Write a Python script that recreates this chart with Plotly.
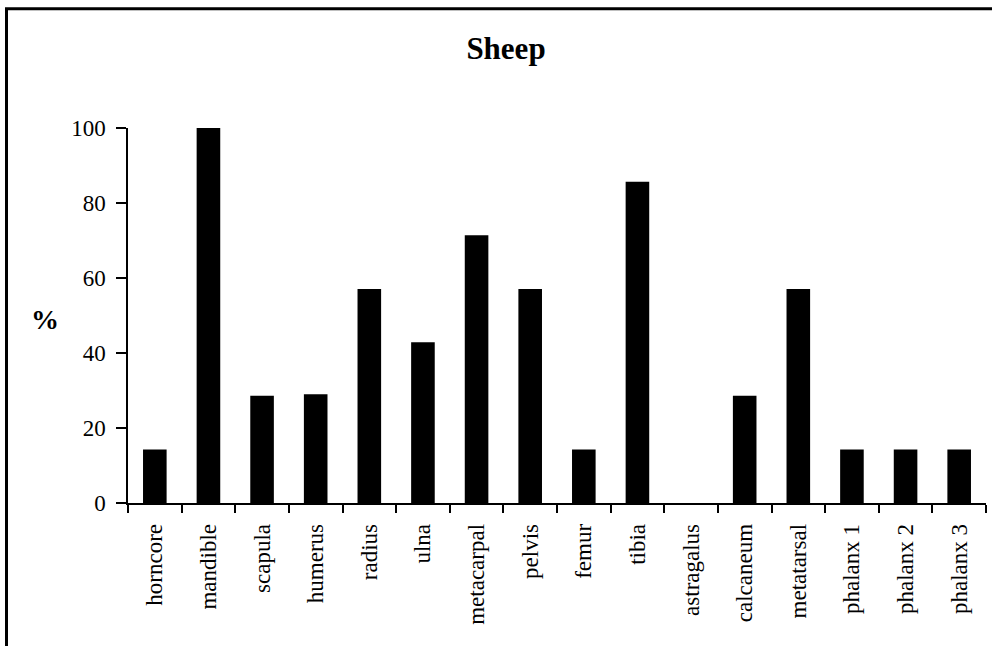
import plotly.graph_objects as go

categories = ["horncore", "mandible", "scapula", "humerus", "radius", "ulna",
              "metacarpal", "pelvis", "femur", "tibia", "astragalus", "calcaneum",
              "metatarsal", "phalanx 1", "phalanx 2", "phalanx 3"]
values = [14.3, 100, 28.6, 29.0, 57.1, 42.9, 71.4, 57.1, 14.3, 85.7, 0, 28.6,
          57.1, 14.3, 14.3, 14.3]
y_ticks = [0, 20, 40, 60, 80, 100]

FONT = "Liberation Serif, Times New Roman, serif"
W, H = 992, 646
L, R, T, B = 128, 6, 128, 143
pw = W - L - R
ph = H - T - B

fig = go.Figure(go.Bar(x=categories, y=values, marker=dict(color="black", line=dict(width=0))))

def px_x(p):
    return (p - L) / pw

def px_y(p):
    return (H - B - p) / ph

fig.update_layout(
    width=W, height=H,
    margin=dict(l=L, r=R, t=T, b=B),
    plot_bgcolor="white", paper_bgcolor="white",
    bargap=0.56,
    showlegend=False,
    font=dict(family=FONT, color="black", size=23),
    title=dict(text="<b>Sheep</b>", x=506 / W, xref="container", xanchor="center",
               y=1 - 48 / H, yref="container", yanchor="middle",
               font=dict(family=FONT, size=31, color="black")),
    xaxis=dict(
        type="category", showline=True, linecolor="black", linewidth=1.5,
        ticks="outside", tickson="boundaries", ticklen=8, tickwidth=1.5, tickcolor="black",
        tickangle=-90, tickfont=dict(family=FONT, size=23, color="black"),
        showgrid=False, zeroline=False, ticklabelstandoff=10,
    ),
    yaxis=dict(
        range=[0, 100], tickvals=y_ticks, showline=True, linecolor="black", linewidth=1.5,
        ticks="outside", ticklen=10, tickwidth=1.5, tickcolor="black",
        tickfont=dict(family=FONT, size=23, color="black"),
        showgrid=False, zeroline=False, ticklabelstandoff=6,
    ),
    annotations=[dict(text="<b>%</b>", xref="paper", yref="paper",
                      x=px_x(45), y=px_y(319), xanchor="center", yanchor="middle",
                      showarrow=False, font=dict(family=FONT, size=28, color="black"))],
    shapes=[dict(type="rect", xref="paper", yref="paper",
                 x0=px_x(6.5), x1=px_x(1010), y0=px_y(670), y1=px_y(8.7),
                 line=dict(color="black", width=3), fillcolor="rgba(0,0,0,0)",
                 layer="below")],
)

fig.write_html("out.html", config={"displayModeBar": False},
               post_script="document.body.style.margin='0';document.body.style.overflow='hidden';")
